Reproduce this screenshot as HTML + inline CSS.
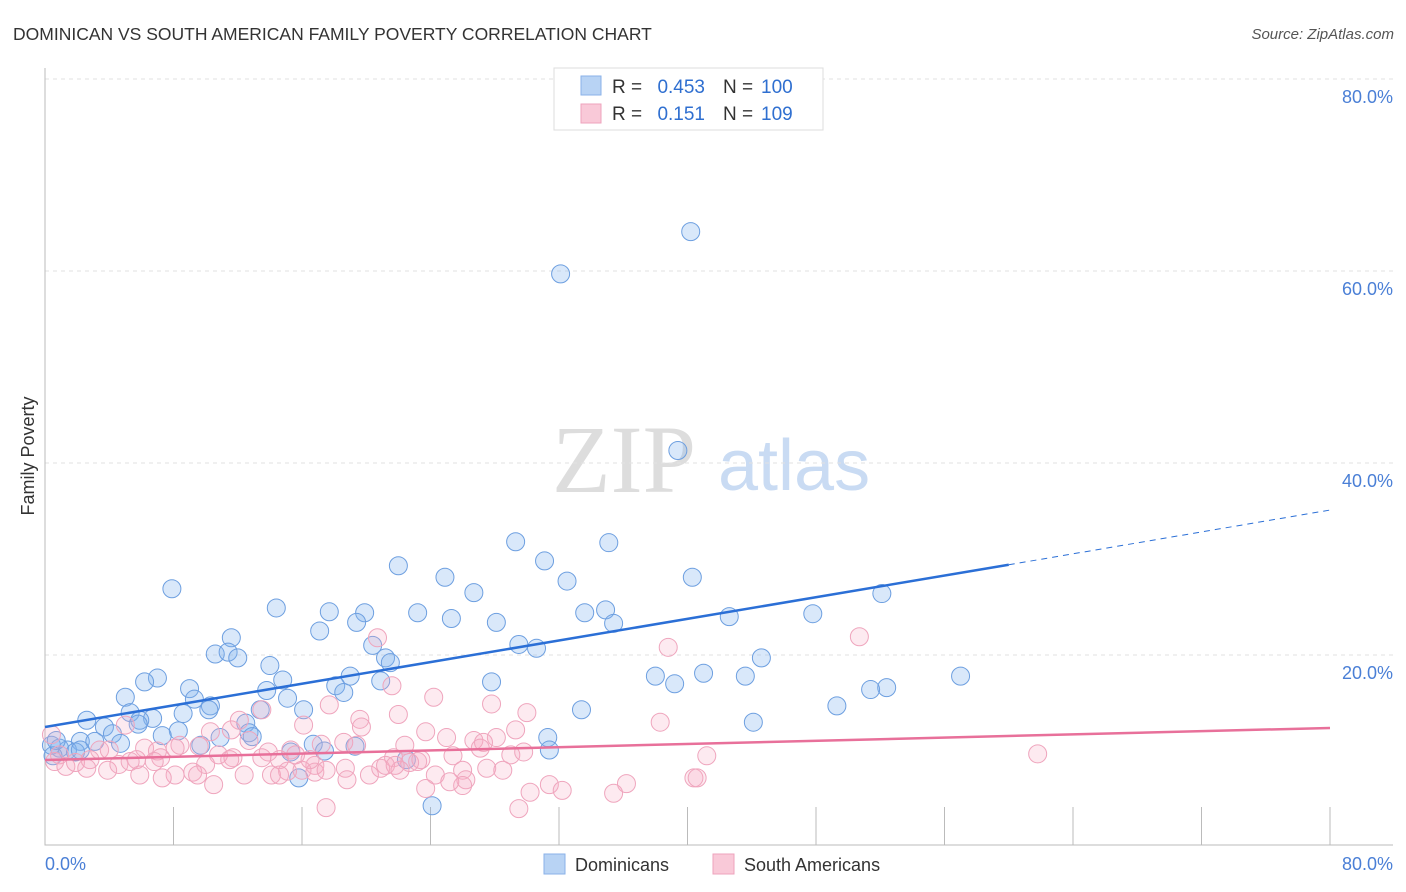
<!DOCTYPE html>
<html><head><meta charset="utf-8"><style>
body{margin:0;background:#fff;font-family:"Liberation Sans",sans-serif}
svg{display:block}
</style></head><body>
<svg width="1406" height="892" id="c">
<text x="13" y="40" font-size="17.5" fill="#333">DOMINICAN VS SOUTH AMERICAN FAMILY POVERTY CORRELATION CHART</text>
<text x="1394" y="39" font-size="15" fill="#555" font-style="italic" text-anchor="end">Source: ZipAtlas.com</text>
<g>
<text x="552" y="492" font-size="96" font-family="Liberation Serif" fill="#ddd">ZIP</text>
<text x="718" y="490" font-size="72" fill="#c9dbf3">atlas</text>
</g>
<g id="grid"></g>
<g id="pts"></g>
<g id="lines"></g>
<text transform="translate(34,456) rotate(-90)" font-size="18" fill="#333" text-anchor="middle">Family Poverty</text>
<text x="45" y="870" font-size="18" fill="#4a7fd6">0.0%</text>
<text x="1393" y="870" font-size="18" fill="#4a7fd6" text-anchor="end">80.0%</text>
<g>
<rect x="554" y="68" width="269" height="62" fill="#fff" stroke="#ddd"/>
<rect x="581" y="76" width="20" height="19" fill="#b8d3f4" stroke="#8ab2e8"/>
<rect x="581" y="104" width="20" height="19" fill="#f9c9d8" stroke="#eea3bc"/>
<text x="612" y="93" font-size="19" fill="#333">R =</text>
<text x="705" y="93" font-size="19" fill="#2f6fd0" text-anchor="end">0.453</text>
<text x="723" y="93" font-size="19" fill="#333">N =</text>
<text x="761" y="93" font-size="19" fill="#2f6fd0">100</text>
<text x="612" y="120" font-size="19" fill="#333">R =</text>
<text x="705" y="120" font-size="19" fill="#2f6fd0" text-anchor="end">0.151</text>
<text x="723" y="120" font-size="19" fill="#333">N =</text>
<text x="761" y="120" font-size="19" fill="#2f6fd0">109</text>
</g>
<g>
<rect x="544" y="854" width="21" height="20" fill="#b8d3f4" stroke="#8ab2e8"/>
<text x="575" y="871" font-size="18" fill="#333">Dominicans</text>
<rect x="713" y="854" width="21" height="20" fill="#f9c9d8" stroke="#eea3bc"/>
<text x="744" y="871" font-size="18" fill="#333">South Americans</text>
</g>
</svg>
<script>
const yTicks=[20,40,60,80];
const blueX=[7.9,40.2,32.1,39.4,29.3,35.1,31.1,22.0,24.9,32.5,40.3,26.7,52.1,14.4,17.7,19.9,23.2,33.6,34.9,25.3,28.1,35.4,42.6,47.8,17.1,19.4,11.6,20.4,29.5,30.6,10.6,11.4,12.0,21.2,21.5,14.0,44.6,7.0,6.2,14.8,19.0,20.9,27.8,38.0,39.2,41.0,43.6,57.0,52.4,51.4,5.0,9.0,9.3,13.8,15.1,18.1,18.6,10.3,10.2,8.6,16.1,13.4,33.4,49.3,5.3,6.7,5.9,2.6,3.7,8.3,5.8,12.5,44.1,4.2,7.3,2.2,3.1,4.7,9.7,10.9,12.7,12.9,16.7,19.3,31.3,31.4,0.4,0.9,1.4,1.9,0.5,2.2,15.3,15.8,24.1,22.5,17.4,0.7];
const blueY=[26.9,64.1,59.7,41.3,31.8,31.7,29.8,29.3,28.1,27.7,28.1,26.5,26.4,24.9,24.5,24.4,24.4,24.4,24.7,23.8,23.4,23.3,24.0,24.3,22.5,23.4,21.8,21.0,21.1,20.7,20.1,20.3,19.7,19.7,19.2,18.9,19.7,17.6,17.2,17.4,17.8,17.3,17.2,17.8,17.0,18.1,17.8,17.8,16.6,16.4,15.6,16.5,15.4,16.3,15.5,16.8,16.1,14.7,14.3,13.9,14.3,14.3,14.3,14.7,14.0,13.4,13.2,13.2,12.5,12.1,12.8,12.9,13.0,11.8,11.6,11.0,11.0,10.8,10.6,11.4,11.9,11.5,10.7,10.5,11.4,10.1,10.6,10.3,10.1,9.9,9.5,10.1,9.9,7.2,4.3,9.1,10.0,11.1];
const pinkX=[20.7,38.8,50.7,17.7,21.6,24.2,27.8,30.0,19.6,16.1,19.7,12.1,5.0,38.3,13.5,23.7,22.0,25.0,28.1,29.3,22.4,26.7,27.3,19.4,17.2,18.6,10.3,11.6,12.7,8.4,6.2,7.0,3.4,4.0,5.7,7.2,8.1,9.6,10.8,13.9,15.3,13.5,14.6,11.7,15.1,15.6,16.8,18.7,21.7,23.2,22.7,23.4,25.4,27.1,29.0,29.8,41.2,61.8,0.4,0.9,0.6,1.3,1.9,2.8,3.9,4.6,2.6,5.3,6.8,8.1,9.2,10.0,12.4,14.1,16.0,16.8,17.5,20.2,20.9,21.2,22.1,24.3,26.0,27.5,28.5,26.2,26.0,25.2,31.4,32.2,36.2,35.4,40.4,40.6,30.2,29.5,17.5,23.7,7.3,9.5,10.5,5.9,18.8,14.6,16.5,21.8,11.5];
const pinkY=[21.8,20.8,21.9,14.8,16.8,15.6,14.9,14.0,13.3,12.7,12.5,13.2,12.7,13.0,14.3,12.0,13.8,11.4,11.4,12.2,10.6,11.1,10.9,10.6,10.7,10.9,12.0,12.2,11.1,10.6,10.3,10.0,10.1,10.1,9.1,9.3,10.3,10.5,9.6,9.9,10.1,9.3,9.1,9.3,7.9,9.6,8.5,8.2,9.3,8.9,8.8,9.1,9.5,10.3,9.6,9.9,9.5,9.7,11.7,9.6,8.9,8.4,8.8,9.1,8.0,8.6,8.2,8.9,8.9,7.5,7.8,8.6,7.5,7.5,8.0,7.8,8.0,7.5,8.2,8.5,8.0,7.5,8.0,8.2,8.0,7.0,6.4,6.8,6.5,5.9,6.6,5.6,7.2,7.2,5.7,4.0,4.1,6.1,7.2,7.5,6.5,7.5,7.0,7.5,9.1,8.5,9.1];
const blueTrend=[[0,12.5],[60,29.4],[80,35.1]];
const pinkTrend=[[0,9.06],[80,12.4]];
const NS='http://www.w3.org/2000/svg';
const X=v=>45+v*(1285/80), Y=v=>847-v*9.6;
function mk(t,a,p){const e=document.createElementNS(NS,t);for(const k in a)e.setAttribute(k,a[k]);p.appendChild(e);return e;}
const g=document.getElementById('grid');
yTicks.forEach(t=>{
 const l=mk('line',{x1:45,x2:1393,y1:Y(t),y2:Y(t),stroke:'#e2e2e2','stroke-dasharray':'4,4'},g);
 
 
 const tx=mk('text',{x:1393,y:Y(t)+24,'font-size':18,fill:'#4a7fd6','text-anchor':'end'},g);
 tx.textContent=t.toFixed(1)+'%';
 
 
});
const ax=mk('path',{d:'M45,68V845H1393',fill:'none',stroke:'#bbb'},g);


for(let i=0;i<=10;i++){const v=i*8;const t=mk('line',{x1:X(v),x2:X(v),y1:807,y2:845,stroke:'#bbb'},g);
 
 }
const p=document.getElementById('pts');
blueX.forEach((x,i)=>{const c=mk('circle',{cx:X(x),cy:Y(blueY[i]),r:9,fill:'rgba(130,178,238,0.3)',stroke:'#6d9fe0','stroke-width':1},p);
 
 });
pinkX.forEach((x,i)=>{const c=mk('circle',{cx:X(x),cy:Y(pinkY[i]),r:9,fill:'rgba(247,170,195,0.25)',stroke:'#efa5bd','stroke-width':1},p);
 
 });
const L=document.getElementById('lines');
const b1=mk('line',{x1:X(blueTrend[0][0]),y1:Y(blueTrend[0][1]),x2:X(blueTrend[1][0]),y2:Y(blueTrend[1][1]),stroke:'#2b6fd6','stroke-width':2.5},L);


const b2=mk('line',{x1:X(blueTrend[1][0]),y1:Y(blueTrend[1][1]),x2:X(blueTrend[2][0]),y2:Y(blueTrend[2][1]),stroke:'#2b6fd6','stroke-width':1,'stroke-dasharray':'6,5'},L);


const pl=mk('line',{x1:X(pinkTrend[0][0]),y1:Y(pinkTrend[0][1]),x2:X(pinkTrend[1][0]),y2:Y(pinkTrend[1][1]),stroke:'#e8709a','stroke-width':2.5},L);


</script>
</body></html>
